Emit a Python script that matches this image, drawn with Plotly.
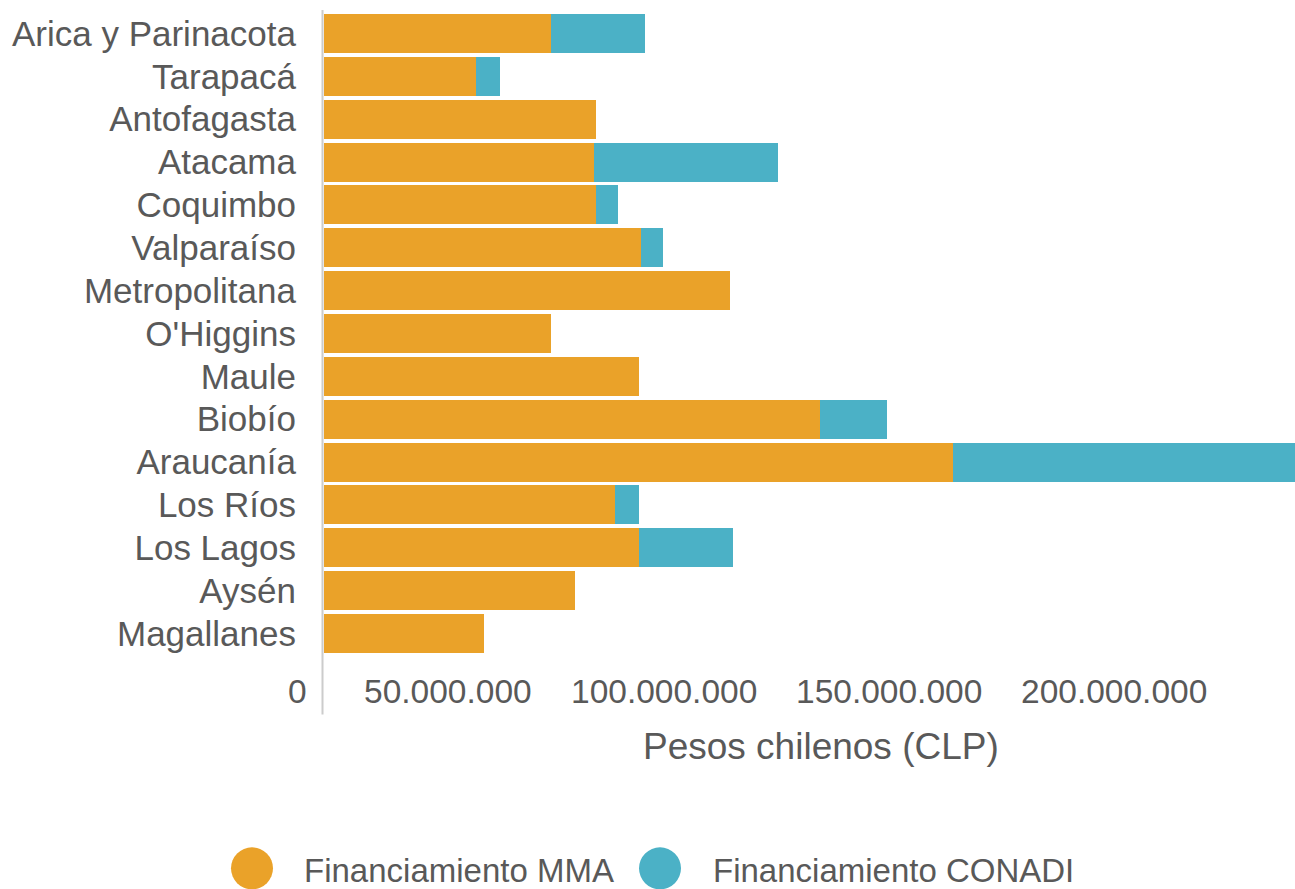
import plotly.graph_objects as go

regions = ["Arica y Parinacota", "Tarapacá", "Antofagasta", "Atacama", "Coquimbo",
           "Valparaíso", "Metropolitana", "O'Higgins", "Maule", "Biobío",
           "Araucanía", "Los Ríos", "Los Lagos", "Aysén", "Magallanes"]
mma = [50.4e6, 33.8e6, 60.4e6, 60.0e6, 60.4e6, 70.4e6, 90.2e6, 50.4e6, 70.0e6,
       110.2e6, 139.8e6, 64.7e6, 70.0e6, 55.8e6, 35.6e6]
conadi = [20.9e6, 5.3e6, 0, 40.9e6, 4.9e6, 4.9e6, 0, 0, 0,
          14.9e6, 80.0e6, 5.3e6, 20.9e6, 0, 0]
tick_vals = [0, 50e6, 100e6, 150e6, 200e6]
tick_text = ["0", "50.000.000", "100.000.000", "150.000.000", "200.000.000"]
series_names = ["Financiamiento MMA", "Financiamiento CONADI"]
colors = ["#EAA229", "#4BB1C6"]
x_title = "Pesos chilenos (CLP)"

W, H = 1295, 889
L, R, T, B = 324, 0, 12, 233.5
pw, ph = W - L - R, H - T - B
def px2x(px):
    return (px - L) / pw
def py2y(py):
    return (H - B - py) / ph

FONT = "Liberation Sans, Arial, sans-serif"
TXT = "#595959"

fig = go.Figure()
fig.add_trace(go.Bar(y=regions, x=mma, orientation="h", name=series_names[0],
                     marker=dict(color=colors[0], line=dict(width=0)), showlegend=False))
fig.add_trace(go.Bar(y=regions, x=conadi, orientation="h", name=series_names[1],
                     marker=dict(color=colors[1], line=dict(width=0)), showlegend=False))

annotations = []
for v, t in zip(tick_vals, tick_text):
    annotations.append(dict(x=v, xref="x", y=0, yref="paper", text=t, showarrow=False,
                            xanchor="right", yanchor="middle", xshift=-15, yshift=-36.5,
                            font=dict(family=FONT, size=33.5, color=TXT)))
annotations.append(dict(x=px2x(821), xref="paper", y=py2y(747), yref="paper", text=x_title,
                        showarrow=False, xanchor="center", yanchor="middle",
                        font=dict(family=FONT, size=37, color=TXT)))

shapes = [dict(type="line", xref="paper", yref="paper", x0=px2x(322.5), x1=px2x(322.5),
               y0=py2y(10), y1=py2y(715), line=dict(color="#CCCCCC", width=2))]

leg_circ_x = [252, 660]
leg_text_x = [302, 711]
for name, col, cx, tx in zip(series_names, colors, leg_circ_x, leg_text_x):
    shapes.append(dict(type="circle", xref="paper", yref="paper", xsizemode="pixel",
                       ysizemode="pixel", xanchor=px2x(cx), yanchor=py2y(869),
                       x0=-21, x1=21, y0=-21, y1=21, fillcolor=col, line=dict(width=0)))
    annotations.append(dict(x=px2x(tx), xref="paper", y=py2y(871), yref="paper", text=name,
                            showarrow=False, xanchor="left", yanchor="middle",
                            font=dict(family=FONT, size=33, color=TXT)))

fig.update_layout(
    width=W, height=H, barmode="stack", bargap=0.09,
    margin=dict(l=L, r=R, t=T, b=B, pad=0),
    paper_bgcolor="white", plot_bgcolor="white",
    font=dict(family=FONT, color=TXT),
    xaxis=dict(range=[0, 215.8e6], showgrid=False, zeroline=False, showline=False,
               showticklabels=False, ticks="", fixedrange=True),
    yaxis=dict(type="category", autorange="reversed", showgrid=False, zeroline=False,
               showline=False, ticks="", ticklabelstandoff=27,
               tickfont=dict(family=FONT, size=35, color=TXT)),
    annotations=annotations, shapes=shapes, showlegend=False,
)
fig.write_html(
    "out.html",
    config={"displayModeBar": False},
    post_script="document.body.style.margin='0px';document.body.style.overflow='hidden';"
                "document.documentElement.style.overflow='hidden';",
)
